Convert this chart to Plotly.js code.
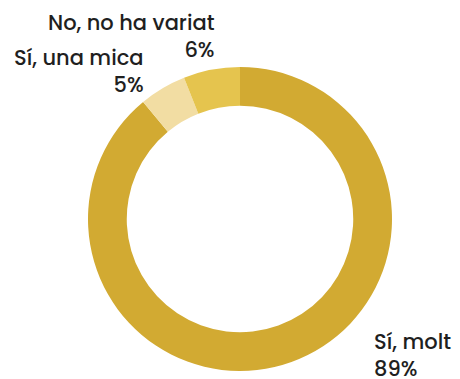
<!DOCTYPE html>
<html>
<head>
<meta charset="utf-8">
<script src="https://cdn.plot.ly/plotly-3.0.1.min.js"></script>
<style>html,body{margin:0;padding:0;background:#fff}#chart{width:460px;height:379px}</style>
</head>
<body>
<div id="chart"></div>
<script>
var categories = ["Sí, molt", "Sí, una mica", "No, no ha variat"];
var values = [89, 5, 6];
var sliceColors = ["#D2AA32", "#F2DDA3", "#E5C44E"];

var W = 460, H = 379;
var cx = 240, cy = 219, R = 152;
// label anchor positions (pixels): [x, yTop, xanchor]
var labelPos = [
  [372, 325, "left"],
  [146, 41, "right"],
  [217, 6, "right"]
];

var annotations = categories.map(function (c, i) {
  var p = labelPos[i];
  return {
    text: c + "<br>" + values[i] + "%",
    xref: "paper", yref: "paper",
    x: p[0] / W, y: 1 - p[1] / H,
    xanchor: p[2], yanchor: "top",
    align: p[2],
    showarrow: false,
    font: {family: "Poppins, Inter, 'Open Sans', sans-serif", size: 21, color: "#1f1f1f", weight: 500}
  };
});

var data = [{
  type: "pie",
  labels: categories,
  values: values,
  marker: {colors: sliceColors, line: {width: 0}},
  hole: 0.745,
  sort: false,
  direction: "clockwise",
  rotation: 0,
  textinfo: "none",
  hoverinfo: "label+percent",
  domain: {x: [(cx - R) / W, (cx + R) / W], y: [(H - cy - R) / H, (H - cy + R) / H]}
}];

var layout = {
  width: W, height: H,
  margin: {l: 0, r: 0, t: 0, b: 0},
  showlegend: false,
  paper_bgcolor: "#ffffff",
  annotations: annotations
};

Plotly.newPlot("chart", data, layout, {displayModeBar: false, staticPlot: true});
</script>
</body>
</html>
